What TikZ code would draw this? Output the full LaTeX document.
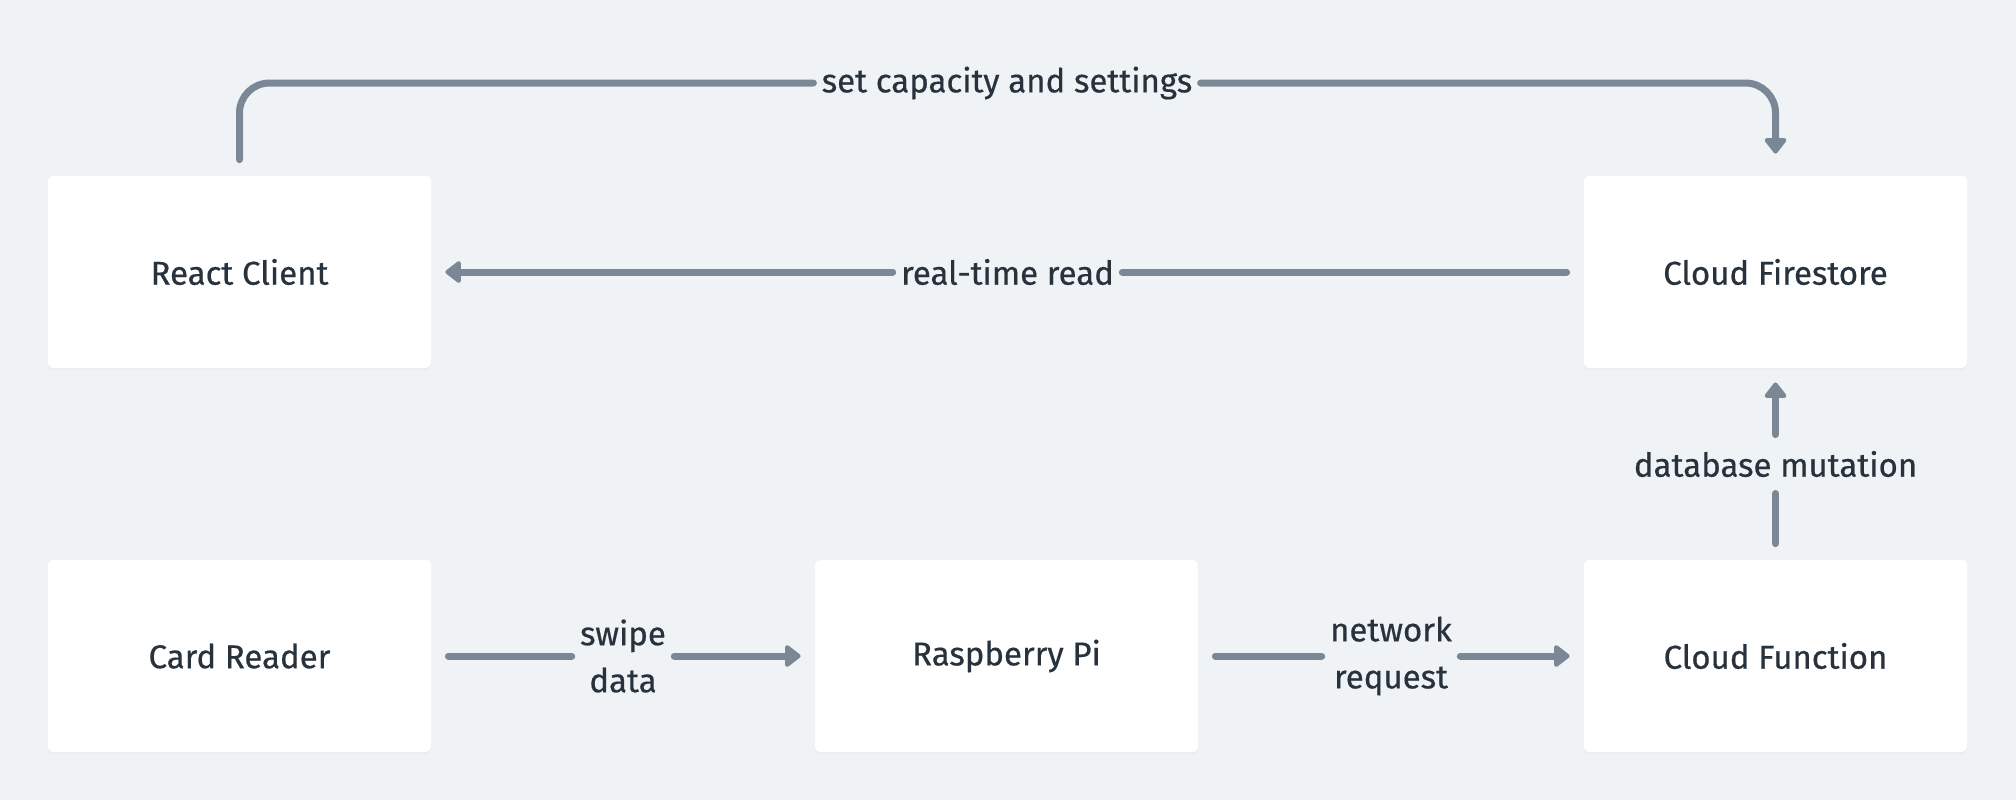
\documentclass[tikz,border=0pt]{standalone}
\usepackage{fontspec}
\setmainfont{Fira Sans}
\newfontfamily\medfont{Fira Sans}[FakeBold=0.5]
\usetikzlibrary{arrows.meta,shadows,calc}

\definecolor{backcol}{HTML}{EFF3F6}
\definecolor{linkcol}{HTML}{7A8896}
\definecolor{inkcol}{HTML}{27323D}

\begin{document}
\begin{tikzpicture}[x=0.5pt, y=-0.5pt,
    box/.style={fill=white, rounded corners=2.5pt, minimum width=191.5pt, minimum height=96pt,
        text=inkcol, font=\medfont\fontsize{16.5}{23.5}\selectfont,
        drop shadow={shadow xshift=0pt, shadow yshift=-1pt, opacity=0.05}},
    lbl/.style={text=inkcol, font=\medfont\fontsize{16.5}{23.5}\selectfont, align=center, inner xsep=4pt, inner ysep=0pt},
    link/.style={draw=linkcol, line width=3.5pt, line cap=round},
    tip/.style={-{Triangle[width=12.5pt, length=8.5pt, round]}}]

    \fill[backcol] (0, 0) rectangle (2016, 800);
    \useasboundingbox (0, 0) rectangle (2016, 800);

    \node[box] (react) at (239.5, 272) {React Client};
    \node[box] (firestore) at (1775.5, 272) {Cloud Firestore};
    \node[box] (card) at (239.5, 656) {Card Reader};
    \node[box] (pi) at (1006.5, 656) {Raspberry Pi};
    \node[box] (function) at (1775.5, 656) {Cloud Function};

    \node[lbl] (capacity) at (1007, 83) {set capacity and settings};
    \node[lbl] (realtime) at ($(react)!0.5!(firestore)$) {real-time read};
    \node[lbl] (swipe) at ($(card)!0.5!(pi)$) {swipe\\data};
    \node[lbl] (network) at ($(pi)!0.5!(function)$) {network\\request};
    \node[lbl, inner ysep=8pt] (mutation) at ($(firestore)!0.5!(function)$) {database mutation};

    \draw[link, rounded corners=15pt, shorten <=8pt] (react.north) |- (capacity.west);
    \draw[link, tip, rounded corners=15pt, shorten >=11pt] (capacity.east) -| (firestore.north);

    \draw[link, shorten <=8.5pt] (firestore) -- (realtime);
    \draw[link, tip, shorten >=7pt] (realtime) -- (react);

    \draw[link, shorten <=8.5pt] (card) -- (swipe);
    \draw[link, tip, shorten >=7pt] (swipe) -- (pi);

    \draw[link, shorten <=8.5pt] (pi) -- (network);
    \draw[link, tip, shorten >=7pt] (network) -- (function);

    \draw[link, shorten <=8pt] (function) -- (mutation);
    \draw[link, tip, shorten >=7pt] (mutation) -- (firestore);
\end{tikzpicture}
\end{document}
